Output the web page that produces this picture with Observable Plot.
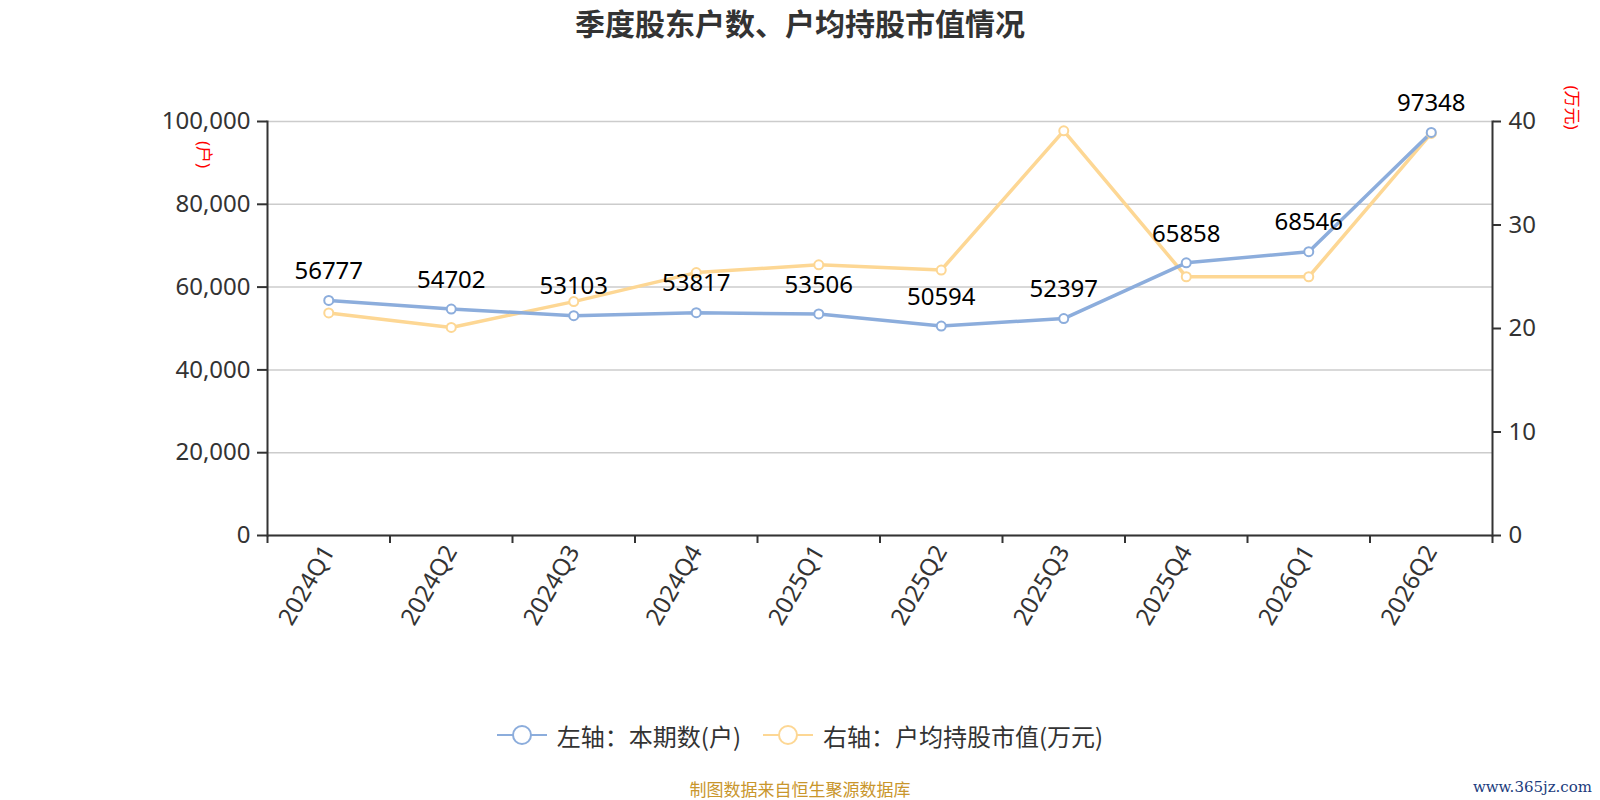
<!DOCTYPE html>
<html>
<head>
<meta charset="utf-8">
<script src="https://cdn.jsdelivr.net/npm/d3@7"></script>
<script src="https://cdn.jsdelivr.net/npm/@observablehq/plot@0.6"></script>
<style>
  html, body { margin: 0; padding: 0; background: #fff; }
  body { width: 1600px; height: 800px; position: relative; overflow: hidden;
         font-family: "Noto Sans", "Noto Sans CJK SC", sans-serif; }
  #title { height: 45px; line-height: 45px; text-align: center; font-size: 30px; font-weight: bold;
           color: #333; font-family: "Noto Sans CJK SC", sans-serif; }
  #legend { height: 70px; display: flex; justify-content: center; align-items: center; gap: 22px;
            font-size: 24px; color: #333; font-family: "Noto Sans CJK SC", sans-serif; }
  .item { display: flex; align-items: center; gap: 10px; }
  #footer { text-align: center; font-size: 17px; color: #c9962c; padding-top: 6px;
            font-family: "Noto Sans CJK SC", sans-serif; }
  #wm { position: absolute; right: 8px; bottom: 4px; font-family: "DejaVu Serif", serif; font-size: 15px;
        color: #1b3b7c; }
</style>
</head>
<body>
<div id="title">季度股东户数、户均持股市值情况</div>
<div id="chart"></div>
<div id="legend"></div>
<div id="footer">制图数据来自恒生聚源数据库</div>
<div id="wm">www.365jz.com</div>
<script>
const quarters = ["2024Q1","2024Q2","2024Q3","2024Q4","2025Q1","2025Q2","2025Q3","2025Q4","2026Q1","2026Q2"];
const holders = [56777, 54702, 53103, 53817, 53506, 50594, 52397, 65858, 68546, 97348];
const avgValue = [21.5, 20.1, 22.6, 25.4, 26.15, 25.65, 39.1, 25.0, 25.0, 38.85];
const leftTicks = [0, 20000, 40000, 60000, 80000, 100000];
const rightTicks = [0, 10, 20, 30, 40];
const seriesNames = ["左轴：本期数(户)", "右轴：户均持股市值(万元)"];
const colors = ["#8caddc", "#fdd794"];

const ratio = 100000 / 40;
const rows = quarters.map((q, i) => ({q, i, x: i + 0.5, h: holders[i], v: avgValue[i]}));
const boundaries = quarters.map((q, i) => i).concat([quarters.length]);

const chart = Plot.plot({
  width: 1600,
  height: 655,
  marginLeft: 267,
  marginRight: 108,
  marginTop: 76,
  marginBottom: 165,
  style: {fontFamily: '"Noto Sans", "Noto Sans CJK SC", sans-serif', background: "#fff"},
  x: {type: "linear", domain: [0, quarters.length], axis: null},
  y: {domain: [0, 100000], axis: null},
  marks: [
    Plot.gridY(leftTicks, {stroke: "#cccccc", strokeOpacity: 1, strokeWidth: 1.5}),
    Plot.axisY(leftTicks, {anchor: "left", label: null, tickSize: 10, tickPadding: 7, stroke: "#333", strokeWidth: 2,
      fontSize: 24, fill: "#333", tickFormat: d3.format(",")}),
    Plot.axisY(rightTicks.map(d => d * ratio), {anchor: "right", label: null, tickSize: 8, tickPadding: 8, stroke: "#333", strokeWidth: 2,
      fontSize: 24, fill: "#333", tickFormat: d => String(Math.round(d / ratio))}),
    Plot.axisX(boundaries, {anchor: "bottom", label: null, tickSize: 8, stroke: "#333", strokeWidth: 2, tickFormat: () => ""}),
    Plot.axisX(rows.map(d => d.x), {anchor: "bottom", label: null, tickSize: 0, tickPadding: 12, tickRotate: -60,
      fontSize: 24, fill: "#333", tickFormat: d => quarters[Math.floor(d)]}),
    Plot.frame({anchor: "left", stroke: "#333", strokeWidth: 2}),
    Plot.frame({anchor: "right", stroke: "#333", strokeWidth: 2}),
    Plot.ruleY([0], {stroke: "#333", strokeWidth: 2}),
    Plot.line(rows, {x: "x", y: d => d.v * ratio, stroke: colors[1], strokeWidth: 3.5}),
    Plot.line(rows, {x: "x", y: "h", stroke: colors[0], strokeWidth: 3.5}),
    Plot.dot(rows, {x: "x", y: d => d.v * ratio, r: 4.5, fill: "#fff", stroke: colors[1], strokeWidth: 2}),
    Plot.dot(rows, {x: "x", y: "h", r: 4.5, fill: "#fff", stroke: colors[0], strokeWidth: 2}),
    Plot.text(rows, {x: "x", y: "h", text: d => String(d.h), dy: -29, fontSize: 24, fill: "#000", lineAnchor: "middle"}),
    Plot.text(["(户)"], {frameAnchor: "top-left", dx: -64, dy: 33, rotate: 90, fill: "red", fontSize: 17, lineAnchor: "middle", textAnchor: "middle"}),
    Plot.text(["(万元)"], {frameAnchor: "top-right", dx: 79, dy: -14, rotate: 90, fill: "red", fontSize: 17, lineAnchor: "middle", textAnchor: "middle"})
  ]
});
document.getElementById("chart").appendChild(chart);

const legend = document.getElementById("legend");
seriesNames.forEach((name, k) => {
  const item = document.createElement("div");
  item.className = "item";
  item.innerHTML = `<svg width="50" height="22"><line x1="0" x2="50" y1="11" y2="11" stroke="${colors[k]}" stroke-width="2"/><circle cx="25" cy="11" r="9" fill="#fff" stroke="${colors[k]}" stroke-width="2"/></svg><span>${name}</span>`;
  legend.appendChild(item);
});
</script>
</body>
</html>
